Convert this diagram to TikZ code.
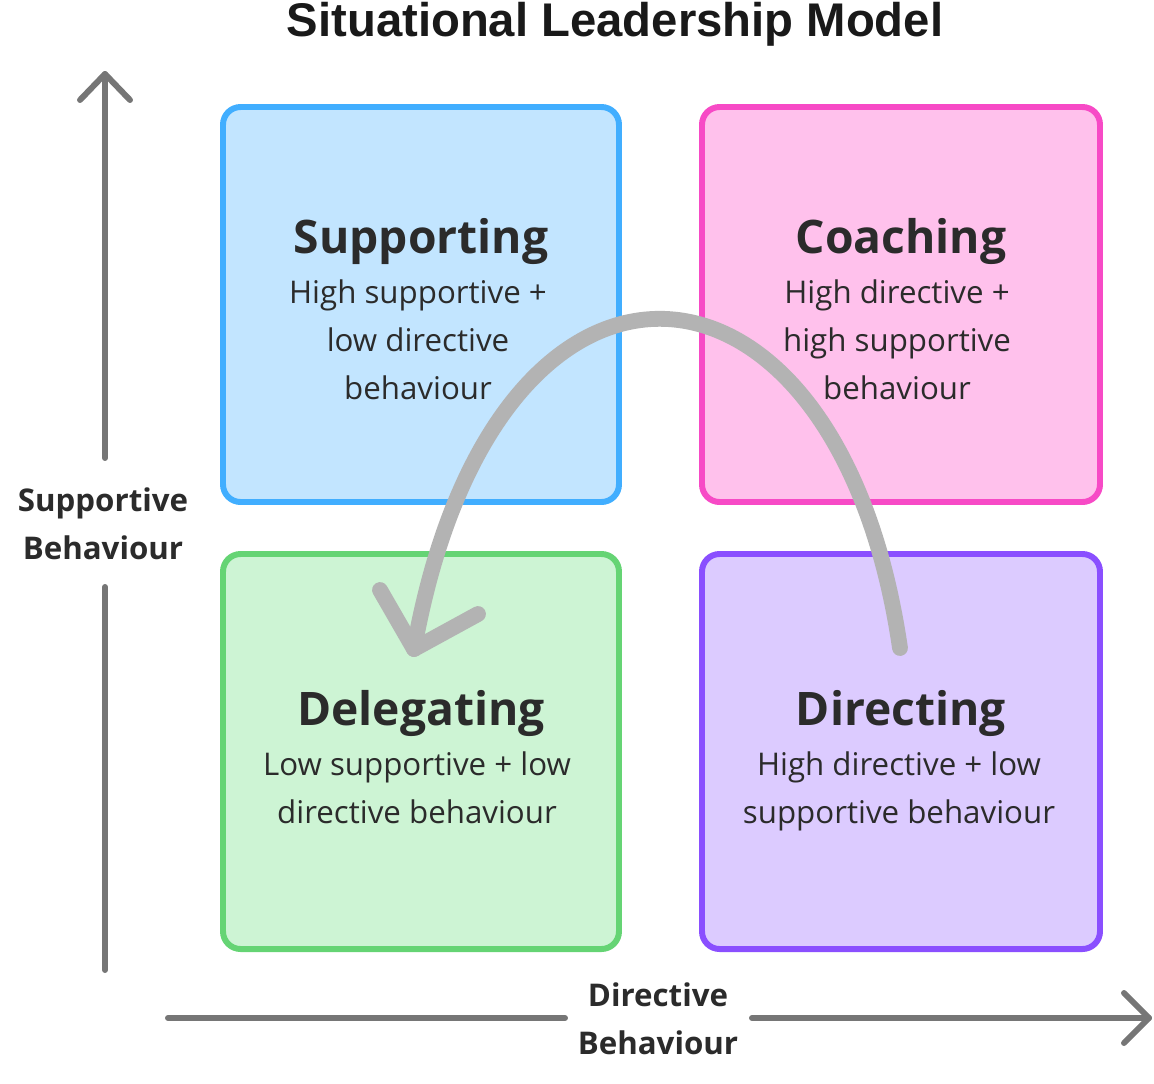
\documentclass[tikz,border=0pt]{standalone}
\usepackage{fontspec}
\setmainfont{Open Sans}
\newfontfamily\titlefont{Liberation Sans}
\usetikzlibrary{calc}
\definecolor{txt}{HTML}{2B2B2B}
\definecolor{axis}{HTML}{767676}
\definecolor{flow}{HTML}{B3B3B3}
\definecolor{bluel}{HTML}{41AEFF}
\definecolor{bluef}{HTML}{C2E5FF}
\definecolor{pinkl}{HTML}{F74AC6}
\definecolor{pinkf}{HTML}{FFC1EC}
\definecolor{greenl}{HTML}{65D474}
\definecolor{greenf}{HTML}{CDF4D4}
\definecolor{purpl}{HTML}{8A4FFF}
\definecolor{purpf}{HTML}{DCCBFF}
\begin{document}
\begin{tikzpicture}[x=0.02cm,y=-0.02cm,
  quad/.style={rounded corners=10pt,line width=3.4pt},
  head/.style={font=\fontsize{26.3}{30}\selectfont\bfseries,text=txt},
  body/.style={font=\fontsize{17.8}{27.2}\selectfont,text=txt,align=center},
  axlabel/.style={font=\fontsize{17.8}{27.2}\selectfont\bfseries,text=txt,align=center},
  axline/.style={draw=axis,line width=3.4pt,line cap=round,line join=round},
  flowline/.style={draw=flow,line width=9pt,line cap=round,line join=round}]
\useasboundingbox (0,0) rectangle (1154,1083);
% title
\node[font=\titlefont\fontsize{26.9}{30}\selectfont\bfseries,text=black!90] (title) at (615,24) {Situational Leadership Model};
% quadrants
\draw[quad,draw=bluel,fill=bluef] (223,107) rectangle (619,502);
\draw[quad,draw=pinkl,fill=pinkf] (702,107) rectangle (1100,502);
\draw[quad,draw=greenl,fill=greenf] (223,554) rectangle (619,949);
\draw[quad,draw=purpl,fill=purpf] (702,554) rectangle (1100,949);
% quadrant texts
\node[head] (supp) at (421,241) {Supporting};
\node[body,anchor=north] (suppt) at (418,274) {High supportive +\\low directive\\behaviour};
\node[head] (coach) at (901,241) {Coaching};
\node[body,anchor=north] (coacht) at (897,274) {High directive +\\high supportive\\behaviour};
\node[head] (deleg) at (421,713) {Delegating};
\node[body,anchor=north] (delegt) at (417,746) {Low supportive + low\\directive behaviour};
\node[head] (direc) at (901,713) {Directing};
\node[body,anchor=north] (direct) at (899,746) {High directive + low\\supportive behaviour};
% axes
\node[axlabel] (ylab) at (103,524) {Supportive\\Behaviour};
\node[axlabel] (xlab) at (658,1019) {Directive\\Behaviour};
\coordinate (ybot) at (105,970);
\coordinate (ytop) at (105,74);
\coordinate (xleft) at (168,1018);
\coordinate (xright) at (1149,1018);
\draw[axline] (ybot) -- (105,587);
\draw[axline] (105,458) -- (ytop);
\draw[axline] ($(ytop)+(-25,26)$) -- (ytop) -- ($(ytop)+(25,26)$);
\draw[axline] (xleft) -- (565,1018);
\draw[axline] (752,1018) -- (xright);
\draw[axline] ($(xright)+(-25,-25)$) -- (xright) -- ($(xright)+(-25,25)$);
% flow arrow from Directing to Delegating
\coordinate (fstart) at (900,648);
\coordinate (fend) at (414,649);
\draw[flowline] (fstart) .. controls (838,222) and (495,196) .. (fend);
\draw[flowline] (380,590) -- (fend) -- (478,614);
\end{tikzpicture}
\end{document}
